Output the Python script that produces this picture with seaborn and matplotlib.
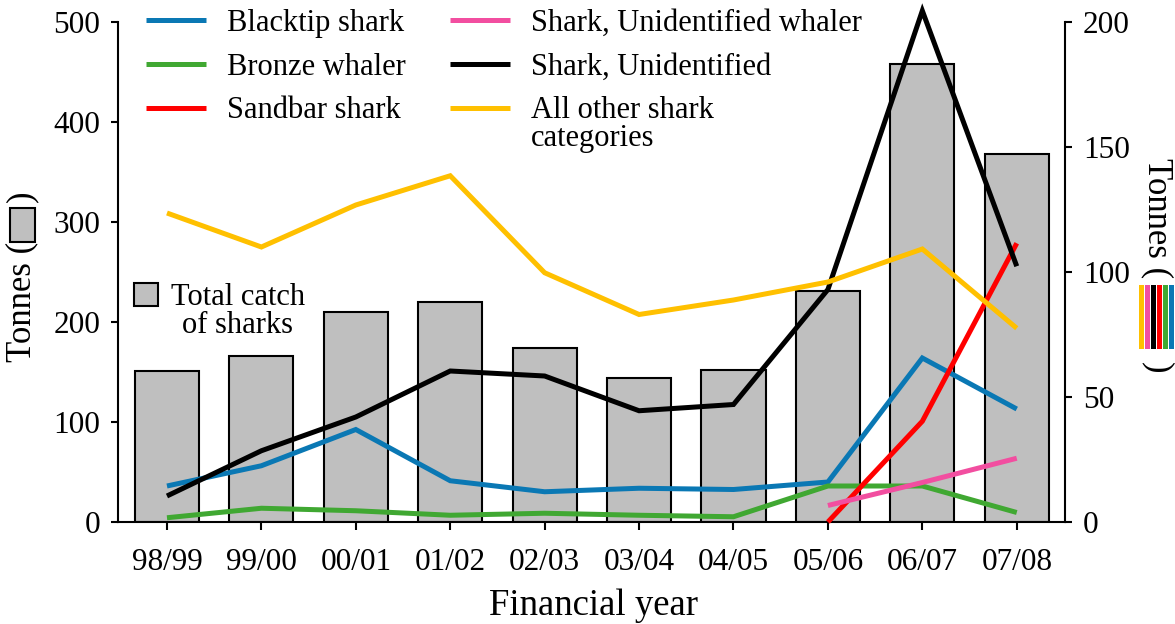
import numpy as np
import pandas as pd
import matplotlib
matplotlib.use("Agg")
import matplotlib.pyplot as plt
from matplotlib.lines import Line2D
from matplotlib.patches import Patch, Rectangle
import seaborn as sns

# ---------------- data ----------------
years = ['98/99', '99/00', '00/01', '01/02', '02/03', '03/04', '04/05', '05/06', '06/07', '07/08']
total_catch = [151, 166, 210, 220, 174, 144, 152, 231, 458, 368]

blacktip = [14.4, 22.5, 37.0, 16.5, 12.1, 13.5, 13.0, 16.0, 65.6, 45.2]
bronze_whaler = [1.7, 5.5, 4.5, 2.7, 3.5, 2.7, 2.1, 14.4, 14.4, 3.8]
sandbar = [np.nan] * 7 + [0.0, 40.3, 111.5]
unid_whaler = [np.nan] * 7 + [6.6, 15.8, 25.5]
unidentified = [10.4, 28.5, 42.0, 60.4, 58.4, 44.5, 47.0, 93.0, 204.5, 102.3]
all_other = [123.6, 110.0, 126.8, 138.5, 99.7, 83.0, 88.8, 96.0, 109.2, 77.5]

series_names = ['Blacktip shark', 'Bronze whaler', 'Sandbar shark',
                'Shark, Unidentified whaler', 'Shark, Unidentified',
                'All other shark categories']
series_values = [blacktip, bronze_whaler, sandbar, unid_whaler, unidentified, all_other]
palette = {
    'Blacktip shark': '#0a78b4',
    'Bronze whaler': '#40a832',
    'Sandbar shark': '#ff0000',
    'Shark, Unidentified whaler': '#f24ea0',
    'Shark, Unidentified': '#000000',
    'All other shark categories': '#ffc000',
}
bar_color = '#bfbfbf'

# ---------------- style ----------------
sns.set_theme(style='ticks')
plt.rcParams['font.family'] = ['Liberation Serif', 'DejaVu Serif']
plt.rcParams['text.color'] = 'black'
plt.rcParams['axes.labelcolor'] = 'black'
plt.rcParams['axes.edgecolor'] = 'black'
plt.rcParams['axes.linewidth'] = 1.5
plt.rcParams['xtick.color'] = 'black'
plt.rcParams['ytick.color'] = 'black'
plt.rcParams['xtick.labelcolor'] = 'black'
plt.rcParams['ytick.labelcolor'] = 'black'

FS = 22
W, H = 1175, 624
fig = plt.figure(figsize=(W / 100, H / 100), dpi=100)
ax = fig.add_axes([117.5 / W, 1 - 522 / H, (1065 - 117.5) / W, 500 / H])

df_bar = pd.DataFrame({'year': years, 'total': total_catch})
sns.barplot(data=df_bar, x='year', y='total', color=bar_color, saturation=1,
            edgecolor='black', linewidth=1.5, width=0.68, ax=ax, zorder=1)

ax2 = ax.twinx()
rows = []
for name, vals in zip(series_names, series_values):
    for i, v in enumerate(vals):
        if not np.isnan(v):
            rows.append({'pos': i, 'value': v, 'series': name})
df_lines = pd.DataFrame(rows)
sns.lineplot(data=df_lines, x='pos', y='value', hue='series', hue_order=series_names,
             palette=palette, linewidth=3.6, ax=ax2, legend=False, sort=False)
for ln in ax2.lines:
    ln.set_clip_on(False)
    ln.set_solid_joinstyle('miter')
    ln.set_solid_capstyle('butt')

ax.set_xlim(-0.524, 9.511)
ax.set_ylim(0, 500)
ax2.set_ylim(0, 200)
ax.set_yticks([0, 100, 200, 300, 400, 500])
ax2.set_yticks([0, 50, 100, 150, 200])
ax.set_xticks(range(len(years)))
ax.set_xticklabels(years)

for s in ['top', 'right']:
    ax.spines[s].set_visible(False)
for s in ['top', 'left', 'bottom']:
    ax2.spines[s].set_visible(False)
ax2.spines['right'].set_linewidth(1.5)

ax.tick_params(axis='y', direction='out', length=5, width=1.5, labelsize=22.5, pad=7.5)
ax.tick_params(axis='x', direction='out', length=6, width=1.5, labelsize=22.5, pad=13)
ax2.tick_params(axis='y', direction='out', length=5, width=1.5, labelsize=22.5, pad=8)
ax.set_ylabel('')
ax2.set_ylabel('')
ax.set_xlabel('')
ax2.set_xlabel('')
fig.text(593.5 / W, 1 - 615 / H, 'Financial year', ha='center', va='baseline', fontsize=26.5)

# ---------------- legends ----------------
handles = [Line2D([], [], color=palette[n], lw=3.6, solid_capstyle='butt') for n in series_names]
labels = list(series_names)
labels[-1] = 'All other shark'
leg1 = ax2.legend(handles, labels, ncol=2, frameon=False, loc='upper left',
                  bbox_to_anchor=(146 / W, 1 - 9 / H), bbox_transform=fig.transFigure,
                  borderpad=0, borderaxespad=0, fontsize=FS, handlelength=1.96,
                  handletextpad=0.7, columnspacing=1.44, labelspacing=0.48,
                  labelcolor='black')
ax2.add_artist(leg1)
ax2.annotate('categories', xy=(0, 0), xycoords=leg1.get_texts()[5], xytext=(0, 1),
             textcoords='offset points', ha='left', va='top', fontsize=FS, zorder=10,
             color='black')

leg2 = ax2.legend([Patch(facecolor=bar_color, edgecolor='black', linewidth=1.5)], ['Total catch'],
                  frameon=False, loc='upper left', bbox_to_anchor=(134 / W, 1 - 283 / H),
                  bbox_transform=fig.transFigure, borderpad=0, borderaxespad=0,
                  fontsize=FS, handlelength=0.8, handleheight=0.8, handletextpad=0.4,
                  labelcolor='black')
ax2.annotate('of sharks', xy=(0.5, 0), xycoords=leg2.get_texts()[0], xytext=(0, 1),
             textcoords='offset points', ha='center', va='top', fontsize=FS, zorder=10,
             color='black')

# ---------------- y-axis labels with symbol keys ----------------
fig.text(22 / W, 1 - 362 / H, 'Tonnes (', rotation=90, ha='center', va='bottom', fontsize=25)
fig.text(22 / W, 1 - 190 / H, ')', rotation=90, ha='center', va='top', fontsize=25)
fig.add_artist(Rectangle((10 / W, 1 - 242 / H), 25 / W, 34 / H, transform=fig.transFigure,
                         facecolor=bar_color, edgecolor='black', linewidth=1.5))

fig.text(1157 / W, 1 - 158 / H, 'Tonnes (', rotation=270, ha='center', va='top', fontsize=25)
fig.text(1157 / W, 1 - 373 / H, ')', rotation=270, ha='center', va='bottom', fontsize=25)
stripe_order = ['All other shark categories', 'Shark, Unidentified whaler', 'Shark, Unidentified',
                'Sandbar shark', 'Bronze whaler', 'Blacktip shark']
for i, n in enumerate(stripe_order):
    fig.add_artist(Rectangle(((1139.3 + 6 * i) / W, 1 - 349 / H), 5 / W, 64 / H,
                             transform=fig.transFigure, facecolor=palette[n], edgecolor='none'))

fig.savefig('out.png', dpi=100)
